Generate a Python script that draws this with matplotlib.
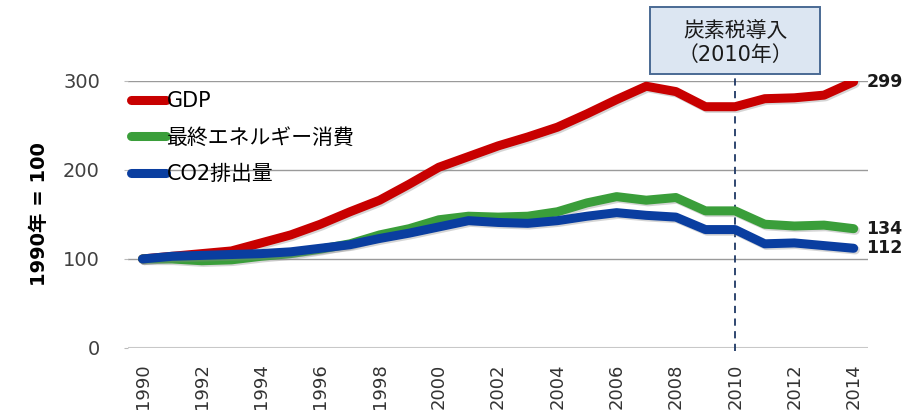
import matplotlib

matplotlib.use("Agg")
import matplotlib.pyplot as plt
import matplotlib.patheffects as pe
from matplotlib.patches import Rectangle

plt.rcParams["font.family"] = ["DejaVu Sans", "Noto Sans CJK JP"]

years = list(range(1990, 2015))
gdp = [100, 103, 106, 109, 118, 127, 139, 153, 166, 184, 203, 215, 227, 237, 248,
       263, 279, 294, 288, 271, 271, 280, 281, 284, 299]
energy = [100, 100, 98, 99, 103, 106, 111, 117, 127, 134, 144, 148, 147, 148, 153,
          163, 170, 166, 169, 154, 154, 139, 137, 138, 134]
co2 = [100, 103, 104, 105, 106, 108, 112, 116, 123, 129, 136, 143, 141, 140, 143,
       148, 152, 149, 147, 133, 133, 117, 118, 115, 112]
series_names = ["GDP", "最終エネルギー消費", "CO2排出量"]
end_labels = ["299", "134", "112"]
tax_year = 2010
tax_label = "炭素税導入\n（2010年）"

RED = "#c80000"
GREEN = "#3a9e3a"
BLUE = "#0a3ea0"
NAVY = "#1f3864"

fig = plt.figure(figsize=(9.19, 4.17), dpi=100)
ax = fig.add_axes([0.139, 0.1655, 0.806, 0.6405])

shadow = [pe.SimpleLineShadow(offset=(1.2, -1.2), shadow_color="#888888", alpha=0.35),
          pe.Normal()]
for vals, name, col in zip([gdp, energy, co2], series_names, [RED, GREEN, BLUE]):
    ax.plot(years, vals, color=col, lw=6.5, solid_capstyle="round",
            solid_joinstyle="round", label=name, path_effects=shadow, zorder=3)

for vals, lab in zip([gdp, energy, co2], end_labels):
    ax.annotate(lab, (years[-1], vals[-1]), xytext=(9, 0), textcoords="offset points",
                ha="left", va="center", fontsize=12.5, fontweight="bold", color="#1a1a1a",
                annotation_clip=False)

# carbon tax marker: dashed line hanging from a labelled box
ax.plot([tax_year, tax_year], [-3, 308], color=NAVY, lw=1.3, ls=(0, (4, 3)),
        clip_on=False, zorder=2)
ax.add_patch(Rectangle((tax_year - 2.87, 308), 5.74, 75, fc="#dce6f2", ec="#4a6a94",
                       lw=1.4, clip_on=False, zorder=4))
ax.text(tax_year, 343, tax_label, ha="center", va="center", fontsize=15,
        color="#1a1a1a", linespacing=1.25, clip_on=False, zorder=5)

ax.set_xlim(1989.5, 2014.5)
ax.set_ylim(0, 300)
ax.set_yticks([0, 100, 200, 300])
ax.set_xticks(years[::2])
ax.set_xticklabels([str(y) for y in years[::2]], rotation=90, fontsize=13,
                   color="#333333")
ax.tick_params(axis="y", labelsize=14, labelcolor="#404040", length=3,
               color="#bbbbbb", pad=17)
ax.tick_params(axis="x", length=0, pad=11)
ax.yaxis.grid(True, color="#9a9a9a", lw=1.0)
ax.set_axisbelow(True)
for s in ax.spines.values():
    s.set_visible(False)
ax.axhline(0, color="#c8c8c8", lw=1.5, zorder=1)
ax.set_ylabel("1990年 = 100", fontsize=14, fontweight="bold", labelpad=10)

leg = ax.legend(loc="upper left", bbox_to_anchor=(-0.01, 1.0), frameon=False,
                fontsize=15, handlelength=1.7, handletextpad=0.05, labelspacing=0.78,
                borderaxespad=0.1)
for h in leg.get_lines():
    h.set_linewidth(6.5)
    h.set_path_effects([])

fig.savefig("out.png", dpi=100)
